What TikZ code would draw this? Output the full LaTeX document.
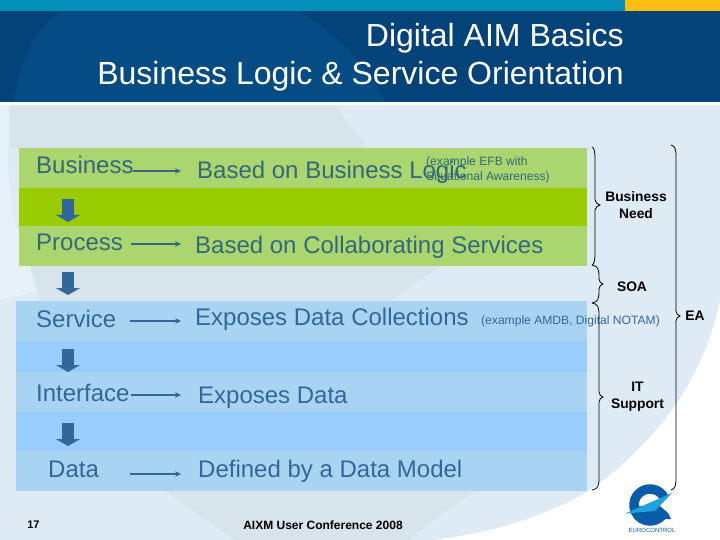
\documentclass[tikz,border=0pt]{standalone}
\usepackage{fontspec}
\setmainfont{Liberation Sans}
\usetikzlibrary{arrows.meta}
\definecolor{bgmain}{HTML}{DEEAF4}
\definecolor{bgpale}{HTML}{E6F0F8}
\definecolor{bgdark}{HTML}{D8E4EC}
\definecolor{topbar}{HTML}{0590BC}
\definecolor{amber}{HTML}{FFBE12}
\definecolor{headdark}{HTML}{03437A}
\definecolor{headlite}{HTML}{064C84}
\definecolor{greenlite}{HTML}{AAD56F}
\definecolor{greendark}{HTML}{99CC00}
\definecolor{bluelite}{HTML}{A9D4F1}
\definecolor{bluedark}{HTML}{99CCFF}
\definecolor{greentext}{HTML}{33697A}
\definecolor{bluetext}{HTML}{336699}
\definecolor{downcol}{HTML}{336699}
\definecolor{logodark}{HTML}{0B5CA6}
\definecolor{logolite}{HTML}{1FA3E0}
\tikzset{
  band/.style={fill=#1,draw=none},
  txt/.style={inner sep=0pt,anchor=base west,font=\fontsize{24}{24}\selectfont,text height=17pt,text depth=5pt},
  side/.style={inner sep=0pt,align=center,font=\fontsize{13.8}{17}\selectfont\bfseries,text=black},
  note/.style={inner sep=0pt,anchor=west,align=left,font=\fontsize{12.1}{15}\selectfont},
  arr/.style={line width=1.2pt,-{Stealth[length=6pt,width=5.5pt]}},
  dn/.style={draw=downcol,line width=11.5pt,-{Triangle[length=7pt,width=24pt]}},
  brc/.style={draw=black,line width=0.8pt}
}
\newcommand{\mybrace}[6]{% xtip-end, xspine, xtip, ytop, ymid, ybot
  \draw[brc] (#1,#4) .. controls (#2-1,#4+1) and (#2,#4+4) .. (#2,#4+12)
    -- (#2,#5-5) .. controls (#2,#5-2) and (#3-2,#5-1) .. (#3,#5)
    .. controls (#3-2,#5+1) and (#2,#5+2) .. (#2,#5+5)
    -- (#2,#6-12) .. controls (#2,#6-4) and (#2-1,#6-1) .. (#1,#6);}
\begin{document}
\begin{tikzpicture}[x=1pt,y=-1pt]
\useasboundingbox (0,0) rectangle (720,540);
% background
\fill[white] (0,0) rectangle (720,540);
\fill[bgmain] (0,105) -- (720,105) -- (720,300)
  .. controls (705,375) and (660,440) .. (590,490)
  .. controls (545,517) and (490,533) .. (433,540) -- (0,540) -- cycle;
\fill[bgpale] (0,105) -- (10,105) .. controls (6,150) and (8,180) .. (14,220) -- (45,290) -- (0,300) -- cycle;
\fill[bgdark] (10,106) -- (335,106) -- (368,148) -- (125,148)
  .. controls (145,135) and (155,122) .. (172,122)
  .. controls (200,122) and (235,135) .. (255,148) -- (10,148) -- cycle;
\fill[bgdark] (30,266) -- (440,266) -- (390,301) -- (40,301) -- cycle;
\fill[bgdark] (165,491) -- (477,491) -- (443,513) -- (408,540) -- (235,540) -- cycle;
% header
\fill[topbar] (0,0) rectangle (720,11);
\fill[amber] (625,0) rectangle (720,11);
\fill[headdark] (0,11) rectangle (720,102);
\fill[headlite] (60,11) -- (298,11) .. controls (340,35) and (370,70) .. (385,102) -- (14,102) .. controls (20,60) and (35,30) .. (60,11) -- cycle;
\node[inner sep=0pt,anchor=north east,align=right,text=white,font=\fontsize{32}{38}\selectfont] (title) at (624,23)
  {Digital AIM Basics\\Business Logic \& Service Orientation};
% bands
\fill[band=greenlite] (19,148) rectangle (587,188);
\fill[band=greendark] (19,188) rectangle (587,226);
\fill[band=greenlite] (19,226) rectangle (587,266);
\fill[band=bluelite] (16,301) rectangle (587,341);
\fill[band=bluedark] (16,341) rectangle (587,372);
\fill[band=bluelite] (16,372) rectangle (587,412);
\fill[band=bluedark] (16,412) rectangle (587,451);
\fill[band=bluelite] (16,451) rectangle (587,491);
% labels
\node[txt,text=greentext] (bizL) at (36,174) {Business};
\node[txt,text=greentext] (bizD) at (197,179) {Based on Business Logic};
\node[txt,text=greentext] (proL) at (36,250) {Process};
\node[txt,text=greentext] (proD) at (195,253) {Based on Collaborating Services};
\node[txt,text=bluetext] (serL) at (36,327) {Service};
\node[txt,text=bluetext] (serD) at (195,325) {Exposes Data Collections};
\node[txt,text=bluetext] (intL) at (36,401) {Interface};
\node[txt,text=bluetext] (intD) at (198,403) {Exposes Data};
\node[txt,text=bluetext] (datL) at (48,477) {Data};
\node[txt,text=bluetext] (datD) at (198,477) {Defined by a Data Model};
% horizontal arrows
\draw[arr,greentext] ([xshift=-1pt,yshift=-3pt]bizL.east) -- ([xshift=-16pt,yshift=2pt]bizD.west);
\draw[arr,greentext] ([xshift=8pt]proL.east) -- ([xshift=-14pt,yshift=3pt]proD.west);
\draw[arr,bluetext] ([xshift=14pt]serL.east) -- ([xshift=-14pt,yshift=-2pt]serD.west);
\draw[arr,bluetext] ([xshift=1pt]intL.east) -- ([xshift=-17pt,yshift=2pt]intD.west);
\draw[arr,bluetext] ([xshift=31pt,yshift=-3pt]datL.east) -- ([xshift=-17pt,yshift=-3pt]datD.west);
% down arrows
\coordinate (d1s) at (68,199); \coordinate (d1e) at (68,222);
\coordinate (d2s) at (68,272); \coordinate (d2e) at (68,295);
\coordinate (d3s) at (68,349); \coordinate (d3e) at (68,372);
\coordinate (d4s) at (68,423); \coordinate (d4e) at (68,446);
\draw[dn] (d1s) -- (d1e);
\draw[dn] (d2s) -- (d2e);
\draw[dn] (d3s) -- (d3e);
\draw[dn] (d4s) -- (d4e);
% notes
\node[note,text=greentext] (efb) at (426,169.5) {(example EFB with\\Situational Awareness)};
\node[note,text=bluetext] (amdb) at (481,321) {(example AMDB, Digital NOTAM)};
% braces
\mybrace{592}{595}{600}{147}{205}{265}
\mybrace{592}{599}{603}{265}{284}{303}
\mybrace{592}{599}{603}{303}{397}{490}
\mybrace{671}{676}{680}{145}{316}{490}
\node[side] (need) at (636,205.5) {Business\\Need};
\node[side] (soa) at (632,287) {SOA};
\node[side] (ea) at (695,316) {EA};
\node[side] (its) at (637.5,396.5) {IT\\Support};
% footer
\node[inner sep=0pt,font=\fontsize{11}{13}\selectfont\bfseries] (page) at (33.5,525) {17};
\node[inner sep=0pt,font=\fontsize{12}{13}\selectfont\bfseries] (conf) at (323,525) {AIXM User Conference 2008};
% logo
\draw[logodark,line width=9.5pt] (650,505) ++(-28:16) arc[start angle=-28,end angle=-318,radius=16];
\fill[logodark] (636,506) -- (660,506) -- (668,513) -- (671,519) -- (638,519) -- cycle;
\fill[logolite] (672,493) -- (625,513.5) -- (655,511) -- cycle;
\node[inner sep=0pt,text=logodark,font=\fontsize{6}{7}\selectfont] (euro) at (652,530.5) {EUROCONTROL};
\end{tikzpicture}
\end{document}
